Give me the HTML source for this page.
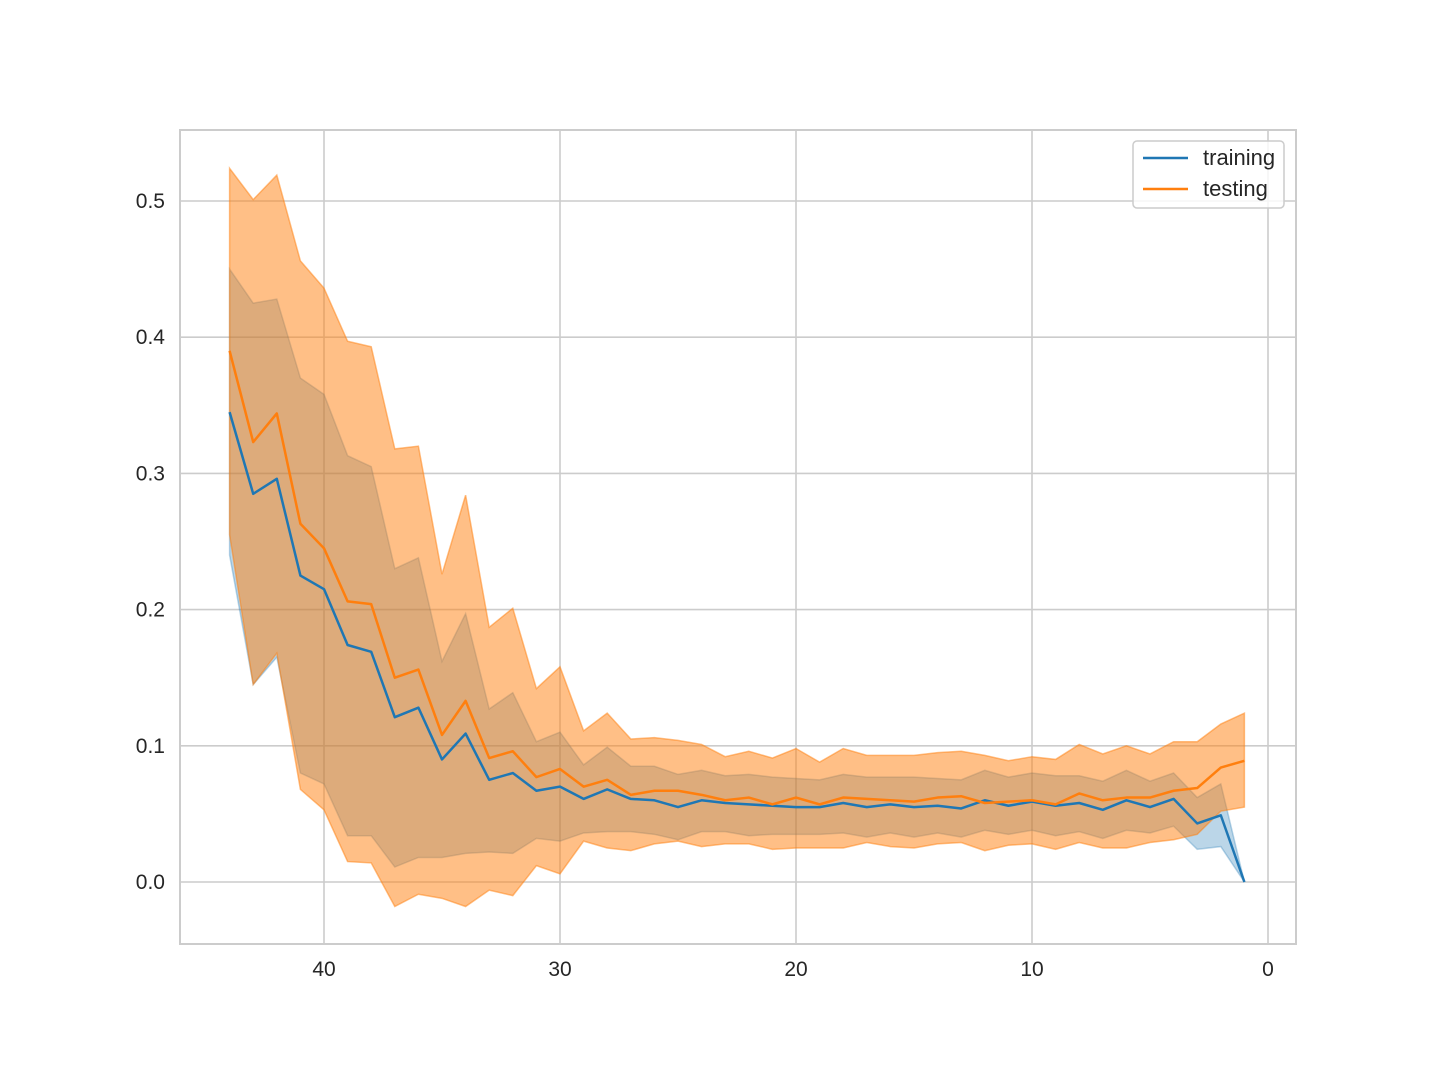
<!DOCTYPE html>
<html><head><meta charset="utf-8"><style>
body{margin:0;background:#fff;}
svg text{font-family:"Liberation Sans",sans-serif;fill:#262626;}
</style></head><body>
<svg id="chart" width="1440" height="1080" xmlns="http://www.w3.org/2000/svg">
<rect width="1440" height="1080" fill="#fff"/>
<g id="grid"></g>
<g id="bands"></g>
<g id="lines"></g>
<rect x="180" y="130" width="1116" height="814" fill="none" stroke="#cccccc" stroke-width="2"/>
<g id="ticks"></g>
<g>
<rect x="1133" y="141" width="151" height="67" rx="4" fill="#fff" fill-opacity="0.8" stroke="#cccccc" stroke-width="1.5"/>
<line x1="1143" y1="158" x2="1188" y2="158" stroke="#1f77b4" stroke-width="2.5"/>
<text x="1203" y="165" font-size="22">training</text>
<line x1="1143" y1="189" x2="1188" y2="189" stroke="#ff7f0e" stroke-width="2.5"/>
<text x="1203" y="196" font-size="22">testing</text>
</g>
</svg>
<script>
const epochs=[44,43,42,41,40,39,38,37,36,35,34,33,32,31,30,29,28,27,26,25,24,23,22,21,20,19,18,17,16,15,14,13,12,11,10,9,8,7,6,5,4,3,2,1];
const trainMean=[0.345,0.285,0.296,0.225,0.215,0.174,0.169,0.121,0.128,0.090,0.109,0.075,0.080,0.067,0.070,0.061,0.068,0.061,0.060,0.055,0.060,0.058,0.057,0.056,0.055,0.055,0.058,0.055,0.057,0.055,0.056,0.054,0.060,0.056,0.059,0.056,0.058,0.053,0.060,0.055,0.061,0.043,0.049,0.0];
const trainUpper=[0.450,0.425,0.428,0.370,0.358,0.313,0.305,0.230,0.238,0.162,0.197,0.127,0.139,0.103,0.110,0.086,0.099,0.085,0.085,0.079,0.082,0.078,0.079,0.077,0.076,0.075,0.079,0.077,0.077,0.077,0.076,0.075,0.082,0.077,0.080,0.078,0.078,0.074,0.082,0.074,0.080,0.062,0.072,0.0];
const trainLower=[0.240,0.145,0.165,0.080,0.072,0.034,0.034,0.011,0.018,0.018,0.021,0.022,0.021,0.032,0.030,0.036,0.037,0.037,0.035,0.031,0.037,0.037,0.034,0.035,0.035,0.035,0.036,0.033,0.036,0.033,0.036,0.033,0.038,0.035,0.038,0.034,0.037,0.032,0.038,0.036,0.041,0.024,0.026,0.0];
const testMean=[0.390,0.323,0.344,0.263,0.245,0.206,0.204,0.150,0.156,0.108,0.133,0.091,0.096,0.077,0.083,0.070,0.075,0.064,0.067,0.067,0.064,0.060,0.062,0.057,0.062,0.057,0.062,0.061,0.060,0.059,0.062,0.063,0.058,0.059,0.060,0.057,0.065,0.060,0.062,0.062,0.067,0.069,0.084,0.089];
const testUpper=[0.524,0.501,0.519,0.456,0.436,0.397,0.393,0.318,0.320,0.226,0.284,0.187,0.201,0.142,0.158,0.111,0.124,0.105,0.106,0.104,0.101,0.092,0.096,0.091,0.098,0.088,0.098,0.093,0.093,0.093,0.095,0.096,0.093,0.089,0.092,0.090,0.101,0.094,0.100,0.094,0.103,0.103,0.116,0.124];
const testLower=[0.255,0.145,0.168,0.068,0.053,0.015,0.014,-0.018,-0.009,-0.012,-0.018,-0.006,-0.010,0.012,0.006,0.030,0.025,0.023,0.028,0.030,0.026,0.028,0.028,0.024,0.025,0.025,0.025,0.029,0.026,0.025,0.028,0.029,0.023,0.027,0.028,0.024,0.029,0.025,0.025,0.029,0.031,0.035,0.052,0.055];
const xTicks=[40,30,20,10,0];
const yTicks=[0.0,0.1,0.2,0.3,0.4,0.5];
const xTickLabels=["40","30","20","10","0"];
const yTickLabels=["0.0","0.1","0.2","0.3","0.4","0.5"];

const NS="http://www.w3.org/2000/svg";
function X(v){return 1268-v*23.6;}
function Y(v){return 882-v*1362;}
function mk(tag,attrs,parent){const e=document.createElementNS(NS,tag);for(const k in attrs)e.setAttribute(k,attrs[k]);document.getElementById(parent).appendChild(e);return e;}
xTicks.forEach((t,i)=>{
  const g=mk('line',{x1:X(t),x2:X(t),y1:130,y2:944,stroke:'#cccccc','stroke-width':1.6},'grid');
  
  
  const l=mk('text',{x:X(t),y:976,'font-size':21,'text-anchor':'middle'},'ticks');
  l.textContent=xTickLabels[i];
  
  
});
yTicks.forEach((t,i)=>{
  const g=mk('line',{x1:180,x2:1296,y1:Y(t),y2:Y(t),stroke:'#cccccc','stroke-width':1.6},'grid');
  
  
  const l=mk('text',{x:165,y:Y(t)+7,'font-size':21,'text-anchor':'end'},'ticks');
  l.textContent=yTickLabels[i];
  
  
});
function band(up,lo,color,op,name){
  let d='M'+epochs.map((e,i)=>X(e)+','+Y(up[i])).join('L');
  for(let i=epochs.length-1;i>=0;i--)d+='L'+X(epochs[i])+','+Y(lo[i]);
  d+='Z';
  const p=mk('path',{d:d,fill:color,'fill-opacity':op,stroke:color,'stroke-opacity':op,'stroke-width':1.5},'bands');
  
  
}
function line(m,color,name){
  const p=mk('polyline',{points:epochs.map((e,i)=>X(e)+','+Y(m[i])).join(' '),fill:'none',stroke:color,'stroke-width':2.5,'stroke-linejoin':'round'},'lines');
  
  
}
band(trainUpper,trainLower,'#1f77b4',0.3,'training-band');
band(testUpper,testLower,'#ff7f0e',0.5,'testing-band');
line(trainMean,'#1f77b4','training-line');
line(testMean,'#ff7f0e','testing-line');
</script>
</body></html>
